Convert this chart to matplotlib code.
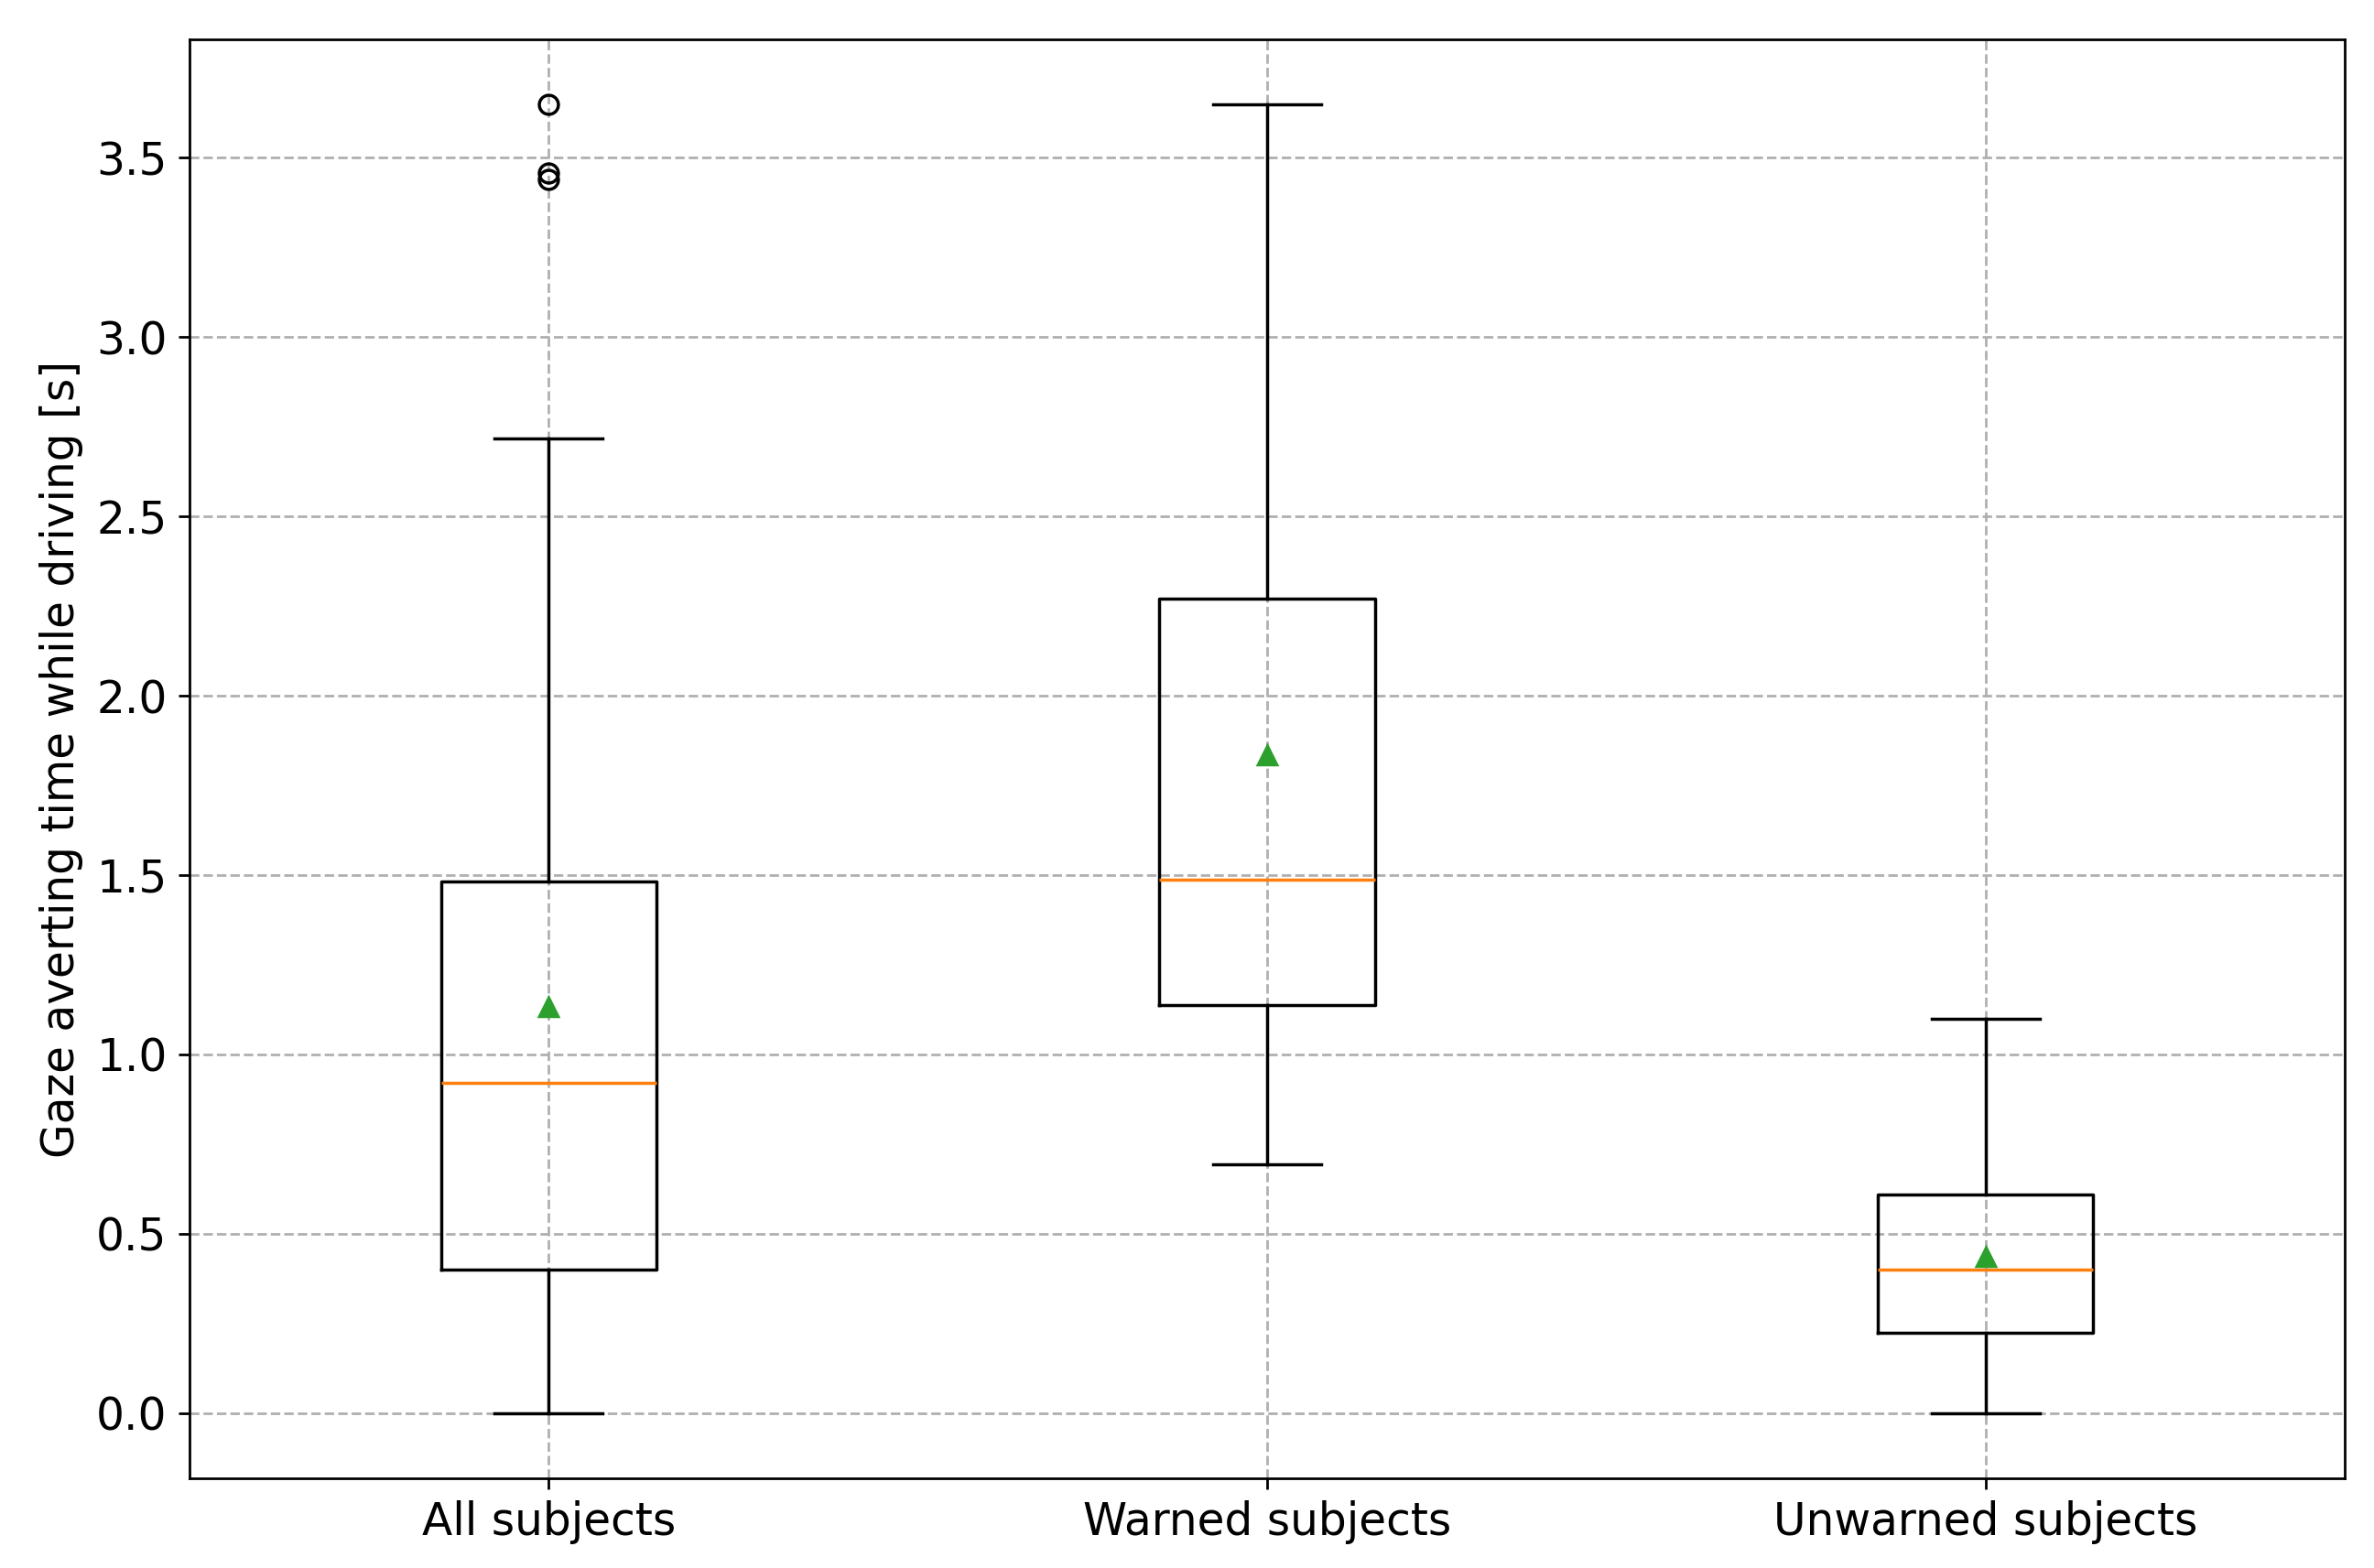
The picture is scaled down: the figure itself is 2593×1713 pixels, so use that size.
import matplotlib

matplotlib.use("Agg")
import matplotlib.pyplot as plt

# Box statistics
groups = ["All subjects", "Warned subjects", "Unwarned subjects"]
whislo = [0.0, 0.693, 0.0]
q1 = [0.40, 1.137, 0.224]
medians = [0.921, 1.488, 0.40]
q3 = [1.483, 2.270, 0.609]
whishi = [2.718, 3.648, 1.099]
means = [1.133, 1.834, 0.435]
fliers = [[3.44, 3.457, 3.648], [], []]

plt.rcParams["font.size"] = 14

stats = []
for i, name in enumerate(groups):
    stats.append(
        {
            "label": name,
            "whislo": whislo[i],
            "q1": q1[i],
            "med": medians[i],
            "q3": q3[i],
            "whishi": whishi[i],
            "mean": means[i],
            "fliers": fliers[i],
        }
    )

fig = plt.figure(figsize=(2593 / 250, 1713 / 250), dpi=250)
ax = fig.add_axes([0.0798, 0.0572, 0.9079, 0.9177])

ax.bxp(stats, widths=0.3, showmeans=True)
ax.grid(True, linestyle="--")
ax.set_ylabel("Gaze averting time while driving [s]")

fig.savefig("out.png", dpi=250, facecolor="white")
plt.close(fig)
